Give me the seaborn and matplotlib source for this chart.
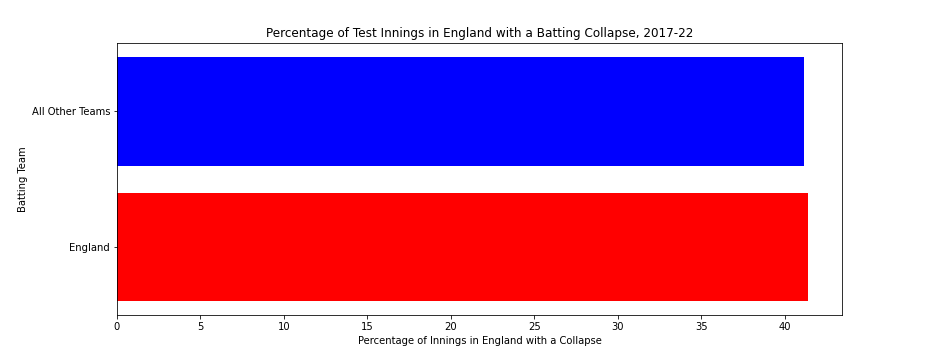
import matplotlib
matplotlib.use("Agg")
import matplotlib.pyplot as plt
import seaborn as sns
import pandas as pd

teams = ["All Other Teams", "England"]
collapse_pct = [41.12, 41.38]
bar_colors = ["blue", "red"]

df = pd.DataFrame({"team": teams, "pct": collapse_pct})

fig, ax = plt.subplots(figsize=(13, 5), dpi=72)
fig.subplots_adjust(left=0.125, right=0.9, top=0.88, bottom=0.125)
sns.barplot(data=df, x="pct", y="team", hue="team", palette=bar_colors,
            order=teams, hue_order=teams, width=0.8, saturation=1,
            legend=False, ax=ax)
ax.set_title("Percentage of Test Innings in England with a Batting Collapse, 2017-22")
ax.set_xlabel("Percentage of Innings in England with a Collapse")
ax.set_ylabel("Batting Team")
ax.set_xlim(0, max(collapse_pct) * 1.05)
ax.set_ylim(1.5, -0.5)
fig.savefig("out.png", dpi=72)
